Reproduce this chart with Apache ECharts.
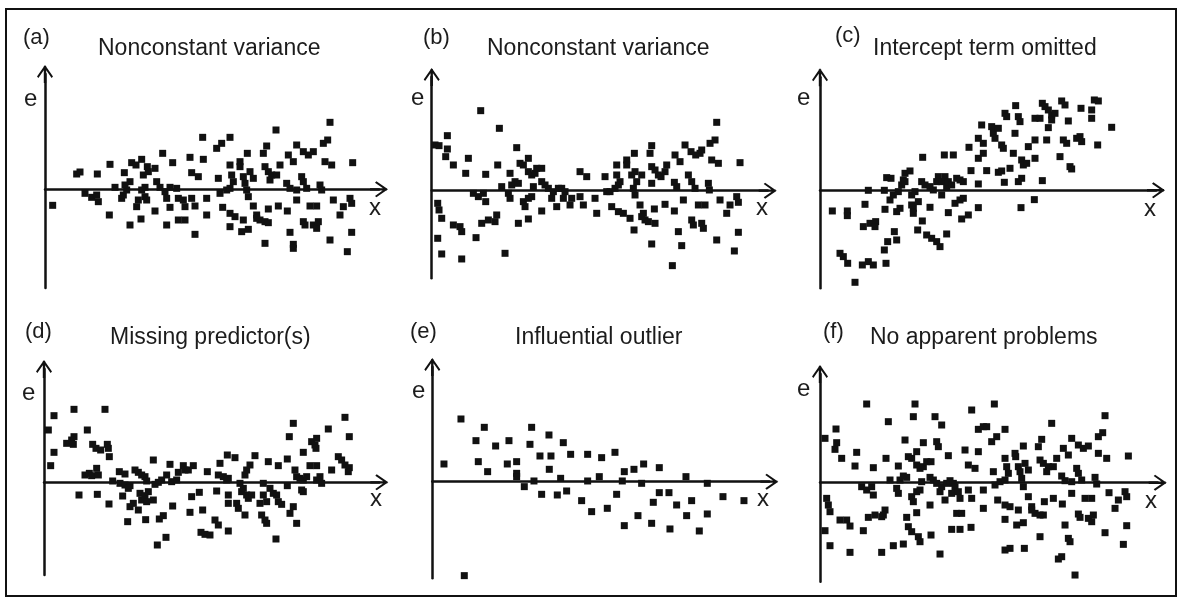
<!DOCTYPE html>
<html>
<head>
<meta charset="utf-8">
<script src="https://cdn.jsdelivr.net/npm/echarts@6/dist/echarts.min.js"></script>
<style>
  html, body { margin: 0; padding: 0; background: #fff; }
  #chart { width: 1180px; height: 599px; }
</style>
</head>
<body>
<div id="chart"></div>
<script>
// Six residual plots: residual e against predictor x (arbitrary units, origin on the axes).
const panelTags = ['(a)', '(b)', '(c)', '(d)', '(e)', '(f)'];
const panelTitles = [
  'Nonconstant variance',
  'Nonconstant variance',
  'Intercept term omitted',
  'Missing predictor(s)',
  'Influential outlier',
  'No apparent problems'
];
const axisNameX = 'x';
const axisNameE = 'e';

// [x, e] pairs for each panel
const residualsA = [
  [23,-48],[95,46],[105,52],[157,46],[195,75],[193,-77],[120,-12],[140,-24],[155,-17],[160,-37],
  [210,6],[238,50],[260,80],[273,73],[290,90],[255,-107],[288,-89],[230,-27],[235,-17],[245,-2],
  [255,23],[240,13],[275,-52],[280,-32],[300,-22],[305,-32],[295,43],[310,53],[307,68],[330,63],
  [300,6],[290,-2],[335,23],[345,6],[330,-65],[353,108],[360,-7],[365,-27],[375,6],[395,3],
  [400,-27],[365,-107],[375,-54],[383,80],[400,-92],[420,-92],[415,-32],[420,-52],[440,-27],[450,-50],
  [435,96],[450,-135],[440,50],[460,38],[473,156],[475,90],[485,-27],[485,-77],[520,33],[515,123],
  [530,138],[555,156],[525,-12],[545,-2],[555,3],[533,-54],[555,73],[560,43],[565,23],[555,-72],
  [570,-82],[595,-92],[555,-112],[585,83],[585,68],[595,38],[600,18],[605,-2],[610,-22],[590,-127],
  [610,-120],[607,108],[615,53],[625,33],[625,-50],[635,-77],[645,-92],[660,-97],[670,-100],[635,-87],
  [655,108],[665,130],[660,-162],[660,68],[670,53],[680,43],[675,28],[695,43],[670,-59],[693,178],
  [700,-50],[705,73],[730,103],[745,83],[725,18],[735,3],[755,-2],[727,-65],[735,-129],[745,-165],
  [745,-177],[755,133],[755,-32],[770,38],[775,23],[785,3],[775,113],[790,103],[805,113],[775,-97],
  [780,-107],[795,-50],[815,-50],[805,-107],[815,-117],[820,-97],[825,13],[830,-2],[835,138],[848,148],
  [840,83],[860,73],[855,201],[855,-152],[865,-32],[885,-77],[895,-52],[915,-27],[920,-42],[907,-187],
  [920,-129],[923,80]
];

const residualsB = [
  [10,137],[22,135],[47,165],[47,125],[42,102],[65,77],[110,97],[102,52],[147,240],[162,49],
  [198,77],[203,187],[235,52],[255,129],[265,82],[275,77],[290,97],[290,57],[300,47],[310,52],
  [315,67],[330,67],[210,12],[125,-8],[140,-18],[155,-8],[162,-33],[230,-8],[235,-23],[240,17],
  [250,27],[260,22],[275,-33],[280,-48],[290,-23],[300,-18],[305,12],[330,27],[340,17],[350,7],
  [260,-98],[290,-85],[330,-61],[360,-23],[365,-3],[380,7],[390,7],[400,-3],[395,-23],[375,-48],
  [415,-43],[420,-23],[445,-18],[455,-43],[445,57],[465,42],[490,-23],[495,-68],[520,42],[525,-3],
  [18,-38],[22,-58],[30,-83],[65,-103],[85,-108],[90,-123],[18,-143],[30,-190],[90,-205],[133,-141],
  [150,-98],[170,-88],[190,-93],[195,-73],[220,-188],[535,-3],[550,7],[560,17],[540,-48],[560,-63],
  [575,-68],[595,-83],[555,77],[555,47],[565,27],[585,92],[585,77],[600,47],[610,57],[615,27],
  [605,7],[610,-13],[608,112],[625,-43],[630,47],[635,-68],[640,-88],[650,-93],[670,-98],[630,-78],
  [607,-118],[660,135],[655,112],[660,22],[660,72],[670,62],[680,47],[688,42],[700,57],[660,-160],
  [668,-55],[700,-41],[705,77],[730,107],[745,87],[728,25],[735,12],[728,-61],[740,-123],[750,-165],
  [722,-225],[760,137],[755,-28],[770,47],[780,27],[790,7],[778,117],[792,107],[805,112],[810,122],
  [780,-88],[785,-103],[800,-43],[820,-43],[810,-98],[815,-113],[830,22],[833,2],[835,142],[850,152],
  [840,92],[860,82],[855,205],[855,-148],[865,-28],[885,-68],[895,-43],[915,-18],[920,-35],[908,-181],
  [920,-125],[925,84]
];

const residualsC = [
  [37,-62],[82,-62],[82,-76],[60,-189],[70,-199],[83,-219],[105,-276],[127,-224],[145,-214],[160,-224],
  [135,-42],[130,-109],[150,-99],[167,-94],[165,-109],[145,0],[193,0],[195,-57],[198,-219],[193,-179],
  [203,-154],[223,-124],[230,-149],[213,36],[200,38],[210,-29],[220,-14],[235,-4],[230,-64],[240,-54],
  [245,16],[250,31],[255,51],[270,58],[255,26],[275,-14],[285,-4],[280,-54],[275,-44],[280,-69],
  [293,-119],[295,-34],[305,26],[315,16],[307,-92],[308,99],[320,-134],[335,-144],[350,-154],[360,-169],
  [330,-51],[330,11],[340,1],[350,26],[355,41],[365,26],[365,-14],[375,41],[380,11],[385,26],
  [373,106],[400,106],[380,-131],[385,-67],[395,16],[410,36],[420,31],[430,26],[405,-39],[420,-29],
  [430,-24],[425,-86],[445,-74],[447,129],[453,59],[475,19],[475,-52],[475,156],[490,141],[490,111],
  [475,96],[485,196],[500,59],[515,191],[520,171],[525,156],[535,186],[545,136],[550,126],[535,54],
  [545,58],[553,24],[555,231],[560,221],[570,66],[580,111],[585,171],[587,254],[595,221],[600,206],
  [595,26],[605,36],[603,-52],[605,91],[610,76],[620,81],[625,131],[645,151],[645,96],[643,-28],
  [645,216],[660,216],[667,29],[667,261],[675,251],[685,241],[695,226],[705,231],[680,151],[685,188],
  [695,211],[720,101],[725,268],[735,256],[730,151],[740,141],[745,208],[750,71],[755,64],[770,156],
  [780,161],[785,146],[783,246],[815,216],[815,241],[823,271],[835,268],[833,136],[875,189]
];

const residualsD = [
  [13,157],[30,200],[90,219],[183,219],[30,90],[20,50],[68,117],[83,127],[90,137],[88,114],
  [130,157],[146,114],[156,102],[170,97],[190,114],[193,102],[196,77],[123,22],[136,27],[143,20],
  [158,42],[163,22],[105,-38],[160,-36],[195,-65],[206,4],[226,32],[243,25],[228,-3],[243,-8],
  [258,-10],[253,-18],[236,-41],[258,-73],[268,-63],[251,-118],[273,37],[283,30],[293,22],[303,17],
  [308,4],[288,-33],[293,-53],[303,-40],[313,-28],[308,-58],[283,-83],[328,-53],[305,-112],[328,67],
  [333,-6],[343,0],[353,7],[368,22],[378,54],[346,-110],[358,-100],[366,-165],[340,-188],[386,-71],
  [383,2],[398,7],[403,30],[418,50],[423,37],[433,37],[448,50],[438,-90],[443,-43],[466,-30],
  [476,-83],[471,-150],[483,-156],[498,-158],[490,32],[513,-113],[523,-128],[518,-26],[528,57],[523,22],
  [538,17],[548,7],[553,12],[550,82],[573,74],[553,-38],[553,-63],[553,-146],[578,-63],[583,-78],
  [588,-3],[593,-28],[598,-18],[608,-38],[613,-48],[603,22],[608,37],[618,52],[603,-98],[623,-38],
  [633,80],[648,-63],[658,-38],[668,-58],[653,-98],[663,-113],[668,-123],[658,-3],[673,62],[678,-18],
  [688,-33],[698,-38],[703,-58],[696,-170],[703,50],[713,-66],[730,70],[730,-10],[738,-93],[748,-73],
  [736,137],[748,177],[758,-123],[753,37],[758,17],[768,12],[778,7],[788,17],[773,-23],[778,-28],
  [778,90],[798,50],[818,50],[803,122],[813,112],[818,132],[816,102],[818,7],[833,-3],[828,17],
  [853,160],[863,37],[883,77],[893,67],[903,52],[916,44],[913,32],[903,195],[916,137]
];

const residualsE = [
  [86,188],[156,163],[131,123],[190,107],[230,123],[298,163],[293,112],[350,140],[393,117],[35,53],
  [138,60],[166,30],[225,53],[253,60],[253,25],[253,15],[276,-15],[305,2],[323,77],[356,77],
  [351,37],[328,-38],[375,-40],[403,-28],[385,10],[415,82],[466,82],[508,72],[548,88],[448,-57],
  [466,2],[478,-90],[501,15],[525,-80],[553,-38],[570,2],[576,30],[605,37],[634,53],[681,42],
  [576,-132],[617,-102],[628,-5],[658,-125],[663,-62],[681,-33],[710,-33],[713,-142],[733,-70],[761,15],
  [763,-102],[778,-57],[801,-148],[825,-5],[825,-97],[872,-45],[935,-57],[96,-282]
];

const residualsF = [
  [15,133],[48,161],[50,120],[45,100],[65,73],[110,91],[105,50],[140,236],[160,45],[198,73],
  [205,183],[235,50],[255,128],[265,78],[275,73],[280,198],[285,236],[290,93],[290,53],[300,43],
  [310,48],[320,63],[333,63],[310,120],[345,198],[365,173],[350,123],[355,108],[385,81],[210,8],
  [125,-12],[140,-22],[155,-12],[160,-37],[230,-17],[235,-32],[240,8],[250,20],[260,16],[275,-42],
  [280,-57],[290,-27],[300,-22],[305,3],[330,16],[340,8],[350,-2],[260,-104],[290,-90],[330,-67],
  [360,-27],[365,-12],[380,-2],[390,6],[400,-2],[405,-12],[395,-32],[375,-52],[415,-27],[420,-47],
  [445,-22],[455,-47],[410,-92],[425,-92],[395,-140],[420,-140],[453,-134],[435,98],[445,53],[465,43],
  [455,218],[475,160],[490,168],[500,168],[475,93],[490,-22],[490,-77],[515,123],[530,138],[523,236],
  [520,33],[525,-7],[540,3],[555,8],[555,160],[533,-52],[555,73],[560,48],[565,28],[555,-67],
  [570,-72],[595,-82],[555,-110],[555,-202],[570,-197],[585,88],[587,78],[595,48],[600,33],[605,13],
  [610,-12],[590,-127],[610,-120],[610,110],[615,58],[625,38],[613,-197],[625,-42],[635,-72],[645,-92],
  [660,-97],[670,-97],[635,-82],[660,-162],[655,108],[665,130],[660,68],[670,58],[685,48],[680,33],
  [700,48],[673,-57],[695,178],[700,-47],[710,73],[730,103],[745,83],[725,20],[735,6],[755,3],
  [727,-64],[735,-127],[745,-167],[750,-177],[755,133],[755,-32],[770,43],[775,28],[785,8],[775,113],
  [790,103],[805,110],[775,-94],[780,-104],[795,-47],[815,-47],[805,-107],[815,-117],[820,-97],[825,16],
  [830,-4],[835,138],[848,150],[835,88],[860,73],[855,201],[855,-150],[867,-30],[885,-77],[895,-52],
  [915,-27],[920,-42],[910,-185],[920,-129],[925,80],[20,-47],[25,-67],[30,-87],[60,-112],[80,-112],
  [90,-130],[15,-144],[30,-189],[90,-209],[130,-144],[145,-104],[165,-97],[185,-102],[195,-82],[190,-97],
  [185,-209],[220,-189],[250,-184],[265,-132],[275,-147],[295,-162],[300,-177],[333,-157],[360,-214],[715,-229],
  [725,-222],[765,-277]
];

const panelData = [residualsA, residualsB, residualsC, residualsD, residualsE, residualsF];

// Plot geometry (pixels) and axis extents (data units) for each panel.
const layout = [
  { left: 45,    top: 74,    width: 334,   height: 214,   xMax: 1002, eMin: -296, eMax: 346,
    tag: [23, 46],  title: [98, 57],   eLab: [24, 108],  xLab: [369, 217] },
  { left: 431.7, top: 77,    width: 336,   height: 201.3, xMax: 1008, eMin: -263, eMax: 341,
    tag: [423, 46], title: [487, 57],  eLab: [411, 107], xLab: [756, 217] },
  { left: 820,   top: 77.3,  width: 336,   height: 211,   xMax: 1008, eMin: -294, eMax: 339,
    tag: [835, 44], title: [873, 57],  eLab: [797, 107], xLab: [1144, 218] },
  { left: 44,    top: 369,   width: 335.3, height: 206,   xMax: 1006, eMin: -278, eMax: 340,
    tag: [25, 340], title: [110, 346], eLab: [22, 402],  xLab: [370, 508] },
  { left: 432.3, top: 367,   width: 337,   height: 211.3, xMax: 1011, eMin: -290, eMax: 344,
    tag: [410, 340], title: [515, 346], eLab: [412, 400], xLab: [757, 508] },
  { left: 820,   top: 374,   width: 337.7, height: 207.7, xMax: 1013, eMin: -297, eMax: 326,
    tag: [823, 340], title: [870, 346], eLab: [797, 398], xLab: [1145, 510] }
];

const FONT = '"Liberation Sans", Arial, Helvetica, sans-serif';
const INK = '#1c1c1c';
const TAG_SIZE = 22;
const TITLE_SIZE = 23;
const AXIS_NAME_SIZE = 24;

// open chevron arrowhead with a short shaft, pointing along the axis
const ARROW = 'path://M8,0L16,11.6L14.6,13L8,3.6ZM8,0L8,3.6L1.4,13L0,11.6ZM6.8,1L9.2,1L9.2,18L6.8,18Z';

// place a text so that its baseline sits at the given y
function textAt(text, x, baseline, size) {
  return {
    text: text,
    left: x,
    top: baseline - 0.8465 * size,
    padding: 0,
    textStyle: { fontFamily: FONT, fontSize: size, fontWeight: 'normal', color: INK }
  };
}

const axisLine = {
  show: true,
  onZero: true,
  symbol: ['none', ARROW],
  symbolSize: [16, 18],
  lineStyle: { color: '#111', width: 2.5 }
};

const titles = [];
const grids = [];
const xAxes = [];
const yAxes = [];
const series = [];

layout.forEach((p, i) => {
  titles.push(textAt(panelTags[i], p.tag[0], p.tag[1], TAG_SIZE));
  titles.push(textAt(panelTitles[i], p.title[0], p.title[1], TITLE_SIZE));
  titles.push(textAt(axisNameE, p.eLab[0], p.eLab[1], AXIS_NAME_SIZE));
  titles.push(textAt(axisNameX, p.xLab[0], p.xLab[1], AXIS_NAME_SIZE));

  grids.push({ left: p.left, top: p.top, width: p.width, height: p.height, containLabel: false });
  xAxes.push({
    type: 'value', gridIndex: i, min: 0, max: p.xMax,
    axisLine: axisLine, axisTick: { show: false }, axisLabel: { show: false }, splitLine: { show: false }
  });
  yAxes.push({
    type: 'value', gridIndex: i, min: p.eMin, max: p.eMax,
    axisLine: axisLine, axisTick: { show: false }, axisLabel: { show: false }, splitLine: { show: false }
  });
  series.push({
    type: 'scatter',
    xAxisIndex: i,
    yAxisIndex: i,
    data: panelData[i],
    symbol: 'rect',
    symbolSize: 7,
    itemStyle: { color: '#111', opacity: 1 },
    emphasis: { disabled: true },
    z: 3
  });
});

const chart = echarts.init(document.getElementById('chart'), null, { renderer: 'canvas' });
chart.setOption({
  animation: false,
  backgroundColor: '#ffffff',
  title: titles,
  grid: grids,
  xAxis: xAxes,
  yAxis: yAxes,
  series: series,
  graphic: [{
    type: 'rect',
    silent: true,
    shape: { x: 6, y: 9, width: 1170, height: 587 },
    style: { fill: 'none', stroke: '#111', lineWidth: 2 }
  }]
});
</script>
</body>
</html>
